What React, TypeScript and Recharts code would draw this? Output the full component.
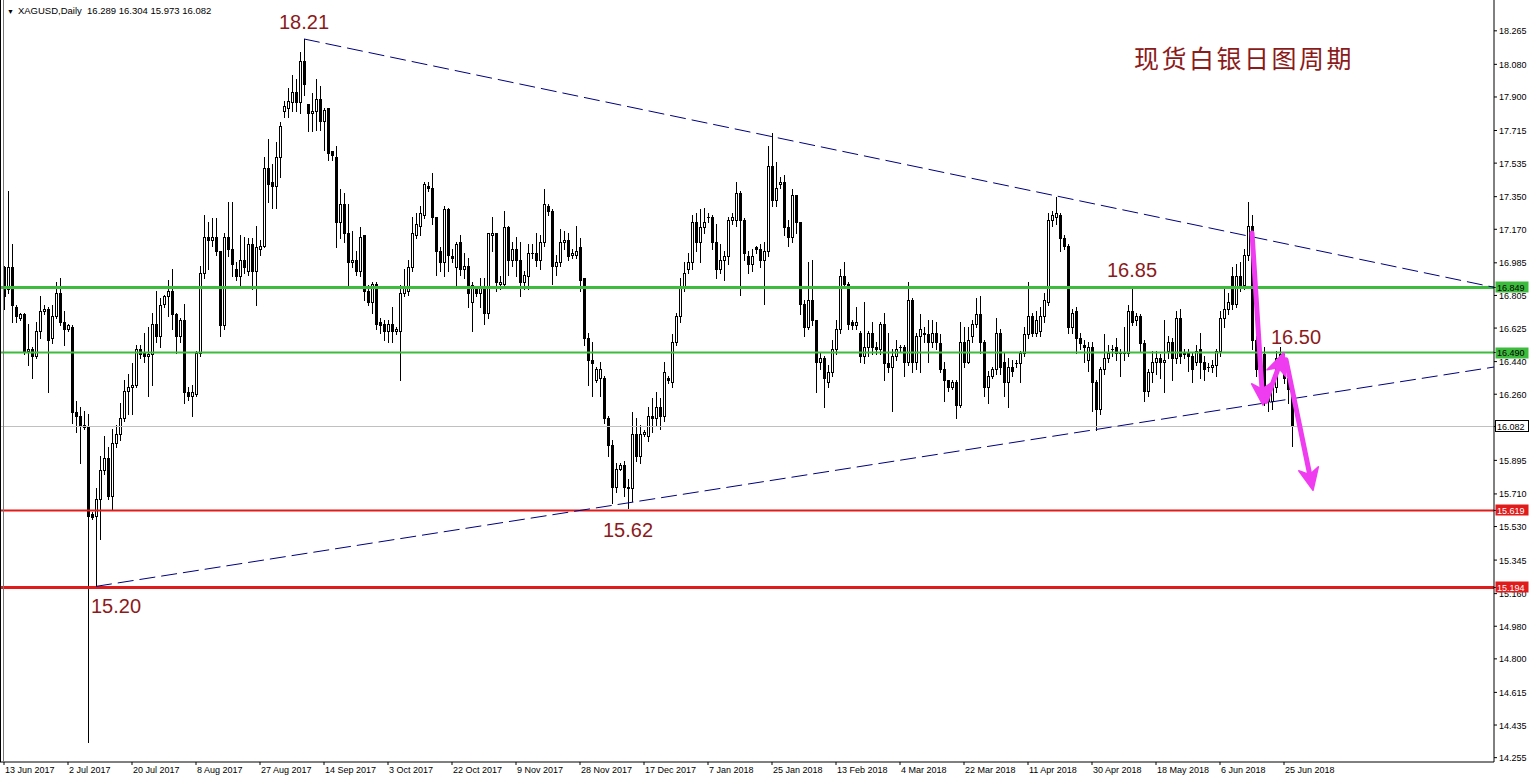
import React from 'react';
import { ComposedChart, Bar, XAxis, YAxis, ReferenceLine, ReferenceDot } from 'recharts';

// Daily XAGUSD candles: [open, high, low, close], bar 0 = 13 Jun 2017
const OHLC: number[][] = [
  [16.96,16.97,16.73,16.80],[16.84,17.38,16.82,16.96],[16.96,17.09,16.66,16.75],[16.74,16.75,16.66,16.69],
  [16.68,16.71,16.67,16.70],[16.70,16.71,16.48,16.50],[16.50,16.65,16.42,16.51],[16.51,16.52,16.35,16.47],
  [16.47,16.66,16.46,16.61],[16.61,16.80,16.57,16.72],[16.72,16.75,16.70,16.73],[16.73,16.74,16.27,16.56],
  [16.57,16.75,16.54,16.69],[16.69,16.88,16.68,16.82],[16.82,16.90,16.64,16.66],[16.66,16.72,16.53,16.62],
  [16.62,16.65,16.61,16.64],[16.63,16.64,16.10,16.16],[16.16,16.22,16.05,16.14],[16.14,16.19,15.88,16.09],
  [16.09,16.17,16.07,16.08],[16.08,16.15,14.34,15.59],[15.60,15.61,15.57,15.58],[15.59,15.74,15.20,15.68],
  [15.68,15.92,15.46,15.84],[15.84,16.03,15.82,15.91],[15.91,15.97,15.68,15.70],[15.70,16.07,15.62,15.99],
  [15.99,16.09,15.97,16.04],[16.04,16.21,16.01,16.13],[16.13,16.34,16.11,16.28],[16.28,16.37,16.15,16.30],
  [16.30,16.43,16.15,16.31],[16.31,16.53,16.30,16.51],[16.51,16.53,16.46,16.48],[16.49,16.60,16.44,16.47],
  [16.47,16.63,16.25,16.48],[16.48,16.71,16.31,16.65],[16.65,16.83,16.55,16.58],[16.58,16.79,16.52,16.75],
  [16.76,16.81,16.74,16.80],[16.80,16.89,16.69,16.83],[16.83,16.95,16.62,16.70],[16.70,16.71,16.49,16.58],
  [16.58,16.68,16.55,16.67],[16.67,16.76,16.21,16.27],[16.27,16.30,16.23,16.25],[16.25,16.31,16.14,16.27],
  [16.26,16.50,16.25,16.49],[16.49,16.97,16.47,16.93],[16.93,17.25,16.90,17.13],[17.13,17.21,16.95,17.11],
  [17.11,17.23,17.08,17.13],[17.13,17.23,17.03,17.05],[17.05,17.05,16.58,16.64],[16.64,17.15,16.62,17.13],
  [17.13,17.32,17.02,17.06],[17.06,17.32,16.91,16.98],[16.95,16.99,16.89,16.91],[16.91,17.14,16.85,17.00],
  [17.00,17.13,16.93,16.96],[16.94,17.12,16.92,17.09],[17.09,17.12,16.84,16.94],[16.94,17.19,16.75,17.07],
  [17.06,17.11,17.03,17.08],[17.08,17.57,17.07,17.51],[17.51,17.67,17.32,17.42],[17.43,17.53,17.29,17.41],
  [17.41,17.65,17.29,17.57],[17.57,17.76,17.46,17.74],[17.82,17.88,17.79,17.85],[17.84,17.95,17.79,17.88],
  [17.87,18.02,17.82,17.93],[17.93,18.00,17.82,17.87],[17.87,18.15,17.81,18.10],[18.10,18.22,17.91,17.97],
  [17.86,17.86,17.71,17.81],[17.81,17.92,17.71,17.82],[17.82,18.00,17.72,17.89],[17.89,17.96,17.72,17.77],
  [17.77,17.84,17.61,17.83],[17.84,17.84,17.55,17.59],[17.60,17.60,17.55,17.58],[17.57,17.63,17.07,17.21],
  [17.21,17.39,17.12,17.31],[17.31,17.37,17.10,17.15],[17.15,17.31,16.85,16.99],[16.99,17.16,16.96,17.00],
  [17.00,17.05,16.92,16.94],[16.94,17.18,16.91,17.13],[17.14,17.14,16.78,16.83],[16.83,16.86,16.75,16.77],
  [16.77,16.88,16.71,16.87],[16.87,16.88,16.62,16.65],[16.66,16.68,16.60,16.64],[16.65,16.67,16.56,16.61],
  [16.61,16.67,16.55,16.65],[16.65,16.74,16.55,16.61],[16.61,16.63,16.59,16.62],[16.61,16.86,16.34,16.82],
  [16.82,16.95,16.80,16.85],[16.83,17.00,16.81,16.96],[16.96,17.24,16.94,17.15],[17.14,17.26,17.12,17.20],
  [17.19,17.30,17.14,17.26],[17.25,17.43,17.23,17.42],[17.41,17.43,17.38,17.40],[17.40,17.48,17.20,17.24],
  [17.24,17.24,16.92,17.05],[17.05,17.07,16.94,16.99],[16.99,17.30,16.91,17.28],[17.28,17.29,16.94,17.03],
  [17.02,17.06,16.99,17.01],[16.96,17.10,16.85,17.09],[17.10,17.14,16.92,16.95],[16.95,17.04,16.90,16.97],
  [16.97,17.01,16.74,16.82],[16.77,16.88,16.61,16.86],[16.84,16.85,16.80,16.82],[16.82,16.90,16.74,16.85],
  [16.85,16.90,16.65,16.71],[16.71,17.15,16.68,17.15],[17.14,17.24,17.05,17.15],[17.15,17.15,16.83,16.88],
  [16.87,16.91,16.84,16.88],[16.87,17.27,16.86,17.18],[17.18,17.19,16.92,17.00],[17.00,17.10,16.97,17.06],
  [17.06,17.13,16.91,17.00],[17.00,17.10,16.80,16.88],[16.88,16.94,16.84,16.92],[16.91,17.09,16.84,17.04],
  [17.04,17.09,17.01,17.04],[17.04,17.15,16.97,17.00],[17.00,17.14,16.95,17.10],[17.10,17.39,17.08,17.31],
  [17.30,17.31,17.25,17.27],[17.27,17.28,16.87,16.97],[16.97,17.03,16.92,16.99],[16.99,17.17,16.97,17.10],
  [17.10,17.16,17.06,17.11],[17.11,17.15,17.00,17.02],[17.03,17.06,17.01,17.04],[17.03,17.19,17.01,17.05],
  [17.07,17.12,16.83,16.89],[16.90,16.90,16.53,16.57],[16.57,16.60,16.31,16.45],[16.45,16.55,16.25,16.43],
  [16.34,16.41,16.33,16.40],[16.35,16.44,16.25,16.40],[16.35,16.36,16.10,16.13],[16.13,16.14,15.92,15.98],
  [15.98,16.01,15.66,15.75],[15.75,15.88,15.72,15.85],[15.85,15.88,15.84,15.87],[15.87,15.89,15.70,15.75],
  [15.75,15.79,15.63,15.74],[15.74,16.16,15.67,16.04],[16.04,16.13,15.89,15.92],[15.92,16.09,15.88,16.04],
  [16.04,16.06,16.03,16.05],[16.03,16.19,16.00,16.14],[16.14,16.24,16.05,16.13],[16.13,16.27,16.09,16.19],
  [16.19,16.24,16.07,16.14],[16.14,16.44,16.11,16.38],[16.35,16.36,16.32,16.34],[16.33,16.59,16.30,16.55],
  [16.55,16.71,16.53,16.69],[16.69,16.90,16.66,16.85],[16.85,16.99,16.83,16.93],[16.95,17.04,16.93,16.99],
  [16.99,17.25,16.95,17.21],[17.21,17.26,17.05,17.10],[17.10,17.28,16.99,17.18],[17.18,17.29,17.15,17.21],
  [17.24,17.26,17.21,17.24],[17.24,17.25,17.06,17.10],[17.10,17.20,16.90,16.95],[16.95,17.09,16.93,17.00],
  [17.00,17.05,16.89,17.02],[17.02,17.24,16.98,17.22],[17.22,17.26,17.20,17.24],[17.22,17.43,17.19,17.37],
  [17.37,17.38,16.81,17.22],[17.22,17.23,17.00,17.04],[17.02,17.05,16.93,16.98],[16.98,17.06,16.94,17.02],
  [17.07,17.08,17.04,17.06],[17.06,17.09,16.96,17.00],[17.00,17.10,16.76,17.05],[17.05,17.63,17.02,17.52],
  [17.52,17.70,17.30,17.33],[17.33,17.54,17.30,17.40],[17.42,17.46,17.40,17.43],[17.43,17.47,17.14,17.18],
  [17.18,17.22,17.08,17.13],[17.13,17.39,17.10,17.36],[17.36,17.36,17.15,17.21],[17.21,17.21,16.70,16.76],
  [16.76,16.78,16.58,16.63],[16.63,16.99,16.62,16.78],[16.78,17.00,16.64,16.67],[16.67,16.67,16.27,16.44],
  [16.44,16.49,16.40,16.46],[16.46,16.47,16.19,16.35],[16.33,16.42,16.30,16.38],[16.38,16.56,16.36,16.51],
  [16.51,16.67,16.48,16.62],[16.62,16.95,16.60,16.91],[16.91,16.99,16.85,16.87],[16.87,16.88,16.62,16.65],
  [16.66,16.67,16.62,16.64],[16.64,16.74,16.62,16.66],[16.60,16.61,16.44,16.47],[16.47,16.77,16.43,16.52],
  [16.52,16.61,16.47,16.60],[16.60,16.66,16.48,16.52],[16.52,16.55,16.48,16.51],[16.51,16.66,16.48,16.65],
  [16.65,16.71,16.34,16.43],[16.43,16.60,16.38,16.41],[16.41,16.51,16.17,16.47],[16.47,16.56,16.45,16.51],
  [16.52,16.53,16.50,16.52],[16.52,16.53,16.36,16.44],[16.44,16.88,16.42,16.78],[16.78,16.79,16.38,16.44],
  [16.44,16.60,16.40,16.58],[16.58,16.70,16.38,16.62],[16.60,16.63,16.55,16.59],[16.59,16.67,16.44,16.55],
  [16.55,16.67,16.52,16.60],[16.60,16.66,16.51,16.55],[16.54,16.59,16.38,16.40],[16.40,16.44,16.22,16.34],
  [16.34,16.34,16.28,16.30],[16.30,16.34,16.29,16.33],[16.33,16.34,16.13,16.20],[16.20,16.66,16.19,16.55],
  [16.55,16.63,16.41,16.44],[16.44,16.63,16.43,16.56],[16.58,16.67,16.55,16.65],[16.65,16.79,16.63,16.70],
  [16.70,16.80,16.49,16.55],[16.55,16.56,16.25,16.30],[16.30,16.39,16.21,16.36],[16.36,16.41,16.35,16.40],
  [16.40,16.68,16.37,16.60],[16.60,16.62,16.37,16.41],[16.44,16.49,16.25,16.33],[16.33,16.46,16.19,16.41],
  [16.41,16.45,16.36,16.39],[16.43,16.45,16.41,16.43],[16.43,16.50,16.33,16.49],[16.49,16.63,16.47,16.59],
  [16.59,16.88,16.57,16.69],[16.69,16.71,16.58,16.60],[16.60,16.72,16.58,16.67],[16.61,16.74,16.58,16.69],
  [16.69,16.82,16.66,16.78],[16.77,17.26,16.75,17.22],[17.22,17.27,17.19,17.25],[17.24,17.35,17.20,17.26],
  [17.25,17.26,17.05,17.12],[17.12,17.14,17.06,17.08],[17.08,17.09,16.60,16.63],[16.63,16.73,16.60,16.71],
  [16.72,16.74,16.49,16.57],[16.57,16.60,16.51,16.54],[16.53,16.56,16.44,16.52],[16.45,16.55,16.39,16.52],
  [16.52,16.55,16.17,16.33],[16.33,16.34,16.06,16.18],[16.18,16.41,16.15,16.40],[16.40,16.59,16.37,16.46],
  [16.46,16.53,16.44,16.49],[16.51,16.53,16.47,16.51],[16.52,16.57,16.45,16.49],[16.49,16.51,16.36,16.49],
  [16.49,16.63,16.45,16.49],[16.49,16.75,16.47,16.72],[16.72,16.84,16.64,16.66],[16.67,16.71,16.64,16.69],
  [16.69,16.70,16.50,16.54],[16.54,16.56,16.22,16.28],[16.28,16.40,16.25,16.38],[16.38,16.50,16.33,16.44],
  [16.44,16.50,16.37,16.46],[16.46,16.48,16.35,16.44],[16.44,16.67,16.27,16.45],[16.50,16.58,16.46,16.55],
  [16.55,16.57,16.34,16.46],[16.46,16.72,16.43,16.68],[16.68,16.73,16.43,16.47],[16.49,16.51,16.46,16.48],
  [16.49,16.51,16.39,16.47],[16.47,16.49,16.33,16.40],[16.44,16.53,16.42,16.50],[16.51,16.60,16.35,16.44],
  [16.44,16.47,16.34,16.40],[16.41,16.43,16.39,16.41],[16.41,16.45,16.38,16.42],[16.42,16.51,16.36,16.50],
  [16.50,16.72,16.47,16.68],[16.68,16.84,16.63,16.73],[16.73,16.82,16.70,16.77],[16.91,16.96,16.73,16.76],
  [16.76,16.98,16.74,16.91],[16.91,16.99,16.83,16.86],[16.86,17.06,16.84,17.03],[17.03,17.32,17.00,17.19],
  [17.19,17.25,16.51,16.56],[16.56,16.58,16.36,16.40],[16.40,16.50,16.30,16.48],[16.48,16.52,16.20,16.27],
  [16.27,16.30,16.17,16.22],[16.22,16.34,16.18,16.30],[16.30,16.50,16.27,16.46],[16.46,16.52,16.41,16.48],
  [16.45,16.48,16.32,16.35],[16.35,16.37,16.21,16.29],[16.289,16.304,15.973,16.082],
];

const DATE_LABELS = [
  '13 Jun 2017', '2 Jul 2017', '20 Jul 2017', '8 Aug 2017', '27 Aug 2017', '14 Sep 2017', '3 Oct 2017',
  '22 Oct 2017', '9 Nov 2017', '28 Nov 2017', '17 Dec 2017', '7 Jan 2018', '25 Jan 2018', '13 Feb 2018',
  '4 Mar 2018', '22 Mar 2018', '11 Apr 2018', '30 Apr 2018', '18 May 2018', '6 Jun 2018', '25 Jun 2018',
];
const DATE_STEP = 16;
const DATE_TICKS = DATE_LABELS.map((_, k) => k * DATE_STEP);

const PRICE_TICKS = [
  18.265, 18.08, 17.9, 17.715, 17.535, 17.35, 17.17, 16.985, 16.805, 16.625, 16.44, 16.26,
  15.895, 15.71, 15.53, 15.345, 15.16, 14.98, 14.8, 14.615, 14.435, 14.255,
];
const PRICE_DOMAIN: [number, number] = [14.231, 18.435];
const BAR_DOMAIN: [number, number] = [-1, 372.5];

const LEVELS = [
  { value: 16.849, color: '#3dbb3d', width: 3, textColor: '#000000' },
  { value: 16.49, color: '#3dbb3d', width: 2, textColor: '#000000' },
  { value: 15.619, color: '#e01b1b', width: 2, textColor: '#ffffff' },
  { value: 15.194, color: '#e01b1b', width: 3, textColor: '#ffffff' },
];

const TRENDLINES = [
  [{ x: 75, y: 18.22 }, { x: 372.5, y: 16.85 }],
  [{ x: 23, y: 15.2 }, { x: 372.5, y: 16.41 }],
];

const ARROWS = [
  [{ x: 312, y: 17.15 }, { x: 314.75, y: 16.2 }],
  [{ x: 315.5, y: 16.22 }, { x: 320, y: 16.49 }],
  [{ x: 320.5, y: 16.45 }, { x: 327.25, y: 15.73 }],
];

const NOTES = [
  { x: 75, y: 18.314, text: '18.21' },
  { x: 28, y: 15.092, text: '15.20' },
  { x: 156, y: 15.511, text: '15.62' },
  { x: 282, y: 16.945, text: '16.85' },
  { x: 323, y: 16.576, text: '16.50' },
];
const TITLE = { x: 310, y: 18.121, text: '现货白银日图周期' };

const SYMBOL = 'XAGUSD,Daily';
const NOTE_COLOR = '#8b1a1a';
const PINK = '#f03cf0';
const FONT = '"Liberation Sans", Arial, sans-serif';

const data = OHLC.map((d, i) => ({ i, o: d[0], h: d[1], l: d[2], c: d[3], range: [d[2], d[1]] }));
const last = OHLC[OHLC.length - 1];
const BID = last[3];

// price tags drawn on the right axis (listed after the plain ticks so they paint on top)
const TAGS = [
  { value: BID, bg: '#ffffff', fg: '#000000', border: '#000000' },
  ...LEVELS.map((lv) => ({ value: lv.value, bg: lv.color, fg: lv.textColor, border: 'none' })),
];
const AXIS_TICKS = [...PRICE_TICKS, ...TAGS.map((t) => t.value)];

function Candle(props: any) {
  const { x, y, width, height, payload } = props;
  if (x == null || y == null || !payload) return null;
  const { o, h, l, c } = payload;
  const top = Math.min(y, y + height);
  const hgt = Math.abs(height);
  const k = h - l > 0 ? hgt / (h - l) : 0;
  const py = (v: number) => top + (h - v) * k;
  const cx = Math.round(x + width / 2) + 0.5;
  const bTop = Math.round(py(Math.max(o, c))) + 0.5;
  const bBot = Math.round(py(Math.min(o, c))) + 0.5;
  const bull = c >= o;
  return (
    <g>
      <line x1={cx} x2={cx} y1={Math.round(top)} y2={Math.round(top + hgt) + 1} stroke="#000" strokeWidth={1} />
      {bBot - bTop < 1 ? (
        <line x1={cx - 1.5} x2={cx + 1.5} y1={bTop} y2={bTop} stroke="#000" strokeWidth={1} />
      ) : (
        <rect x={cx - 1} y={bTop} width={2} height={bBot - bTop} fill={bull ? '#fff' : '#000'} stroke="#000" strokeWidth={1} />
      )}
    </g>
  );
}

function arrowShape(p: any) {
  const { x1, y1, x2, y2 } = p;
  const dx = x2 - x1, dy = y2 - y1;
  const len = Math.hypot(dx, dy) || 1;
  const ux = dx / len, uy = dy / len;
  const hl = 22, hw = 10;
  const bx = x2 - ux * hl, by = y2 - uy * hl;
  const nx = bx + ux * 6, ny = by + uy * 6;
  const pts = `${x2},${y2} ${bx - uy * hw},${by + ux * hw} ${nx},${ny} ${bx + uy * hw},${by - ux * hw}`;
  return (
    <g>
      <line x1={x1} y1={y1} x2={nx} y2={ny} stroke={PINK} strokeWidth={5} strokeLinecap="round" />
      <polygon points={pts} fill={PINK} stroke={PINK} strokeWidth={1.5} strokeLinejoin="round" />
    </g>
  );
}

const PriceTick = (p: any) => {
  const v = Number(p.payload.value);
  const tag = TAGS.find((t) => Math.abs(t.value - v) < 1e-9);
  if (tag) {
    const x = 1495;
    return (
      <g>
        <rect x={x + 0.5} y={Math.round(p.y) - 5.5} width={33} height={11} fill={tag.bg} stroke={tag.border} />
        <text x={x + 2} y={p.y + 0.5} fontSize={9} fontFamily={FONT} fill={tag.fg} dominantBaseline="central">
          {v.toFixed(3)}
        </text>
      </g>
    );
  }
  return (
    <text x={p.x} y={p.y + 0.5} fontSize={9} fontFamily={FONT} fill="#000" dominantBaseline="central" textAnchor="start">
      {v.toFixed(3)}
    </text>
  );
};

const DateTick = (p: any) => (
  <text x={p.x + 1} y={770} fontSize={9} fontFamily={FONT} fill="#000" dominantBaseline="central" textAnchor="start">
    {DATE_LABELS[Math.round(p.payload.value / DATE_STEP)]}
  </text>
);

export default function App() {
  return (
    <div style={{ position: 'absolute', left: 0, top: 0, width: 1529, height: 782, background: '#fff', overflow: 'hidden' }}>
      <ComposedChart width={1529} height={782} data={data} margin={{ top: 0, right: 0, bottom: 0, left: 0 }}>
        <XAxis
          dataKey="i" type="number" domain={BAR_DOMAIN} allowDataOverflow ticks={DATE_TICKS}
          interval={0} tick={<DateTick />} tickLine={{ stroke: '#000' }} tickSize={3}
          axisLine={{ stroke: '#000' }} height={20}
        />
        <YAxis
          orientation="right" type="number" domain={PRICE_DOMAIN} allowDataOverflow ticks={AXIS_TICKS}
          interval={0} tick={<PriceTick />} tickLine={{ stroke: '#000' }} tickSize={3} tickMargin={2}
          axisLine={{ stroke: '#000' }} width={35}
        />
        <ReferenceLine y={BID} stroke="#c0c0c0" strokeWidth={1} />
        {LEVELS.map((lv) => (
          <ReferenceLine key={lv.value} y={lv.value} stroke={lv.color} strokeWidth={lv.width} />
        ))}
        {TRENDLINES.map((seg, k) => (
          <ReferenceLine key={'t' + k} segment={seg} stroke="#000080" strokeWidth={1} strokeDasharray="16 6" />
        ))}
        <Bar dataKey="range" barSize={3} isAnimationActive={false} shape={(p: any) => <Candle {...p} />} />
        {ARROWS.map((seg, k) => (
          <ReferenceLine key={'a' + k} segment={seg} shape={arrowShape} />
        ))}
        {NOTES.map((n) => (
          <ReferenceDot key={n.text} x={n.x} y={n.y} r={0}
            shape={(p: any) => (
              <text x={p.cx} y={p.cy} textAnchor="middle" dominantBaseline="central" fontSize={20}
                fontFamily={FONT} fill={NOTE_COLOR}>{n.text}</text>
            )} />
        ))}
        <ReferenceDot x={TITLE.x} y={TITLE.y} r={0}
          shape={(p: any) => (
            <text x={p.cx} y={p.cy} textAnchor="middle" dominantBaseline="central" fontSize={25}
              letterSpacing={2.5} fontFamily='"Noto Sans CJK SC", sans-serif' fill={NOTE_COLOR}>{TITLE.text}</text>
          )} />
      </ComposedChart>
      <div style={{ position: 'absolute', left: 0, top: 0, width: 4, height: 762, borderLeft: '1px solid #000', borderRight: '1px solid #777', boxSizing: 'border-box', pointerEvents: 'none' }} />
      <div style={{ position: 'absolute', left: 7, top: 4, fontFamily: FONT, fontSize: 9.5, color: '#000', whiteSpace: 'pre', lineHeight: '14px' }}>
        <span style={{ fontSize: 7, marginRight: 4 }}>▼</span>
        {`${SYMBOL}  ${last.map((v) => v.toFixed(3)).join(' ')}`}
      </div>
    </div>
  );
}
